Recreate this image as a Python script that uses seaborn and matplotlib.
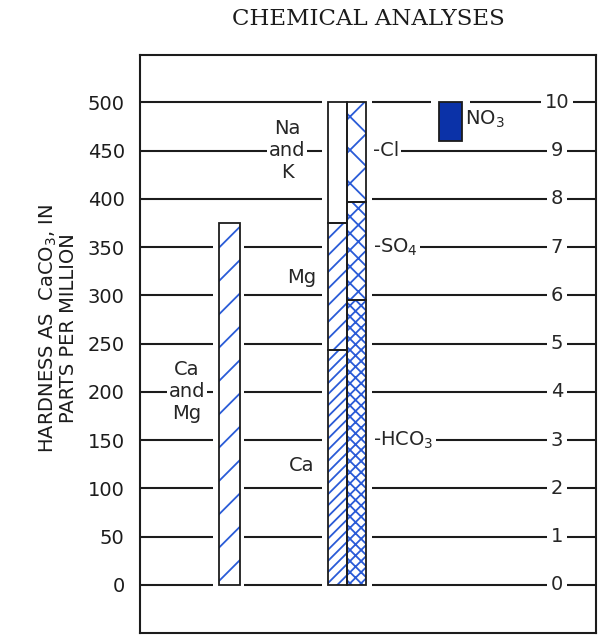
"""
Chemical analyses bar diagram: hardness (ppm as CaCO3) against
equivalents, cations stacked beside anions.
"""
import matplotlib.pyplot as plt
import seaborn as sns

# ---- data (ppm as CaCO3) ----
hardness_label = "Ca\nand\nMg"
hardness_total = 375

cation_names = ["Ca", "Mg", "Na and K"]
cation_values = [243, 132, 125]

anion_names = ["HCO3", "SO4", "Cl"]
anion_values = [295, 102, 103]

no3_value = 40

left_ticks = [0, 50, 100, 150, 200, 250, 300, 350, 400, 450, 500]
right_ticks = [0, 1, 2, 3, 4, 5, 6, 7, 8, 9, 10]  # equivalents, 50 ppm each

# ---- styling ----
sns.set_theme(style="white")
plt.rcParams['font.family'] = ['DejaVu Sans']
plt.rcParams['hatch.linewidth'] = 1.3

INK = "#1c1c1c"
HATCH_BLUE = "#2a5bd7"
NO3_BLUE = "#0b32a8"
FS = 14

fig = plt.figure(figsize=(6.16, 6.42), dpi=100)
ax = fig.add_axes([140 / 616, 9 / 642, 456 / 616, 578 / 642])
ax.set_xlim(0, 456)
ax.set_ylim(-50, 549)

# gridlines, broken later by white halos behind the bars and labels
ax.hlines(left_ticks, 0, 456, color=INK, lw=1.5, zorder=1)


def halo(x0, x1, bottom, top):
    ax.bar(x0, top - bottom, width=x1 - x0, bottom=bottom, align='edge',
           color='white', lw=0, zorder=2)


def hatched_bar(x, width, bottom, height, hatch):
    if hatch:
        ax.bar(x, height, width=width, bottom=bottom, color='white',
               edgecolor=HATCH_BLUE, hatch=hatch, lw=0, zorder=3)
    ax.bar(x, height, width=width, bottom=bottom, fill=False,
           edgecolor=INK, lw=1.3, zorder=4)


# hardness bar (Ca and Mg)
halo(73, 104, -4, hardness_total + 4)
hatched_bar(89.5, 21, 0, hardness_total, '/')

# cations column
halo(182, 232, -4, sum(cation_values) + 4)
bottom = 0
for name, val, h in zip(cation_names, cation_values, ['///', '//', '']):
    hatched_bar(197, 19, bottom, val, h)
    bottom += val

# anions column
bottom = 0
for name, val, h in zip(anion_names, anion_values, ['xxx', 'xx', 'x']):
    hatched_bar(216.5, 19.5, bottom, val, h)
    bottom += val

# NO3 box hanging from the top line
halo(291, 330, 500 - no3_value - 4, 504)
ax.bar(310.5, no3_value, width=23, bottom=500 - no3_value, color=NO3_BLUE,
       edgecolor=INK, lw=1.3, zorder=4)

# ---- labels ----
box = dict(facecolor='white', edgecolor='none', pad=1.5)
ax.text(47, 200, hardness_label, ha='center', va='center', fontsize=FS,
        linespacing=1.2, bbox=box, zorder=5)
ax.text(147, 450, "Na\nand\nK", ha='center', va='center', fontsize=FS,
        linespacing=1.2, bbox=box, zorder=5)
ax.text(162, 318, "Mg", ha='center', va='center', fontsize=FS, zorder=5)
ax.text(162, 124, "Ca", ha='center', va='center', fontsize=FS, zorder=5)

ax.text(233, 450, "-Cl", ha='left', va='center', fontsize=FS, bbox=box, zorder=5)
ax.text(233, 350, "-SO$_4$", ha='left', va='center', fontsize=FS, bbox=box, zorder=5)
ax.text(233, 150, "-HCO$_3$", ha='left', va='center', fontsize=FS, bbox=box, zorder=5)
ax.text(325, 482, "NO$_3$", ha='left', va='center', fontsize=FS, zorder=5)

for t in right_ticks:
    ax.text(417, t * 50, str(t), ha='center', va='center', fontsize=FS,
            bbox=dict(facecolor='white', edgecolor='none', pad=3), zorder=5)

ax.set_xticks([])
ax.set_yticks(left_ticks)
ax.set_yticklabels([str(v) for v in left_ticks], fontsize=FS, color=INK)
ax.tick_params(axis='y', length=0, pad=11)

ax.set_ylabel("HARDNESS AS  CaCO$_3$, IN\nPARTS PER MILLION", fontsize=FS,
              color=INK, linespacing=1.0)
ax.yaxis.set_label_coords(-0.135, 0.527)

for s in ax.spines.values():
    s.set_color(INK)
    s.set_linewidth(1.5)

fig.text(368 / 616, 1 - 19 / 642, "CHEMICAL ANALYSES", ha='center', va='center',
         fontsize=16.5, family='DejaVu Serif', color=INK)

fig.savefig("out.png", dpi=100)
